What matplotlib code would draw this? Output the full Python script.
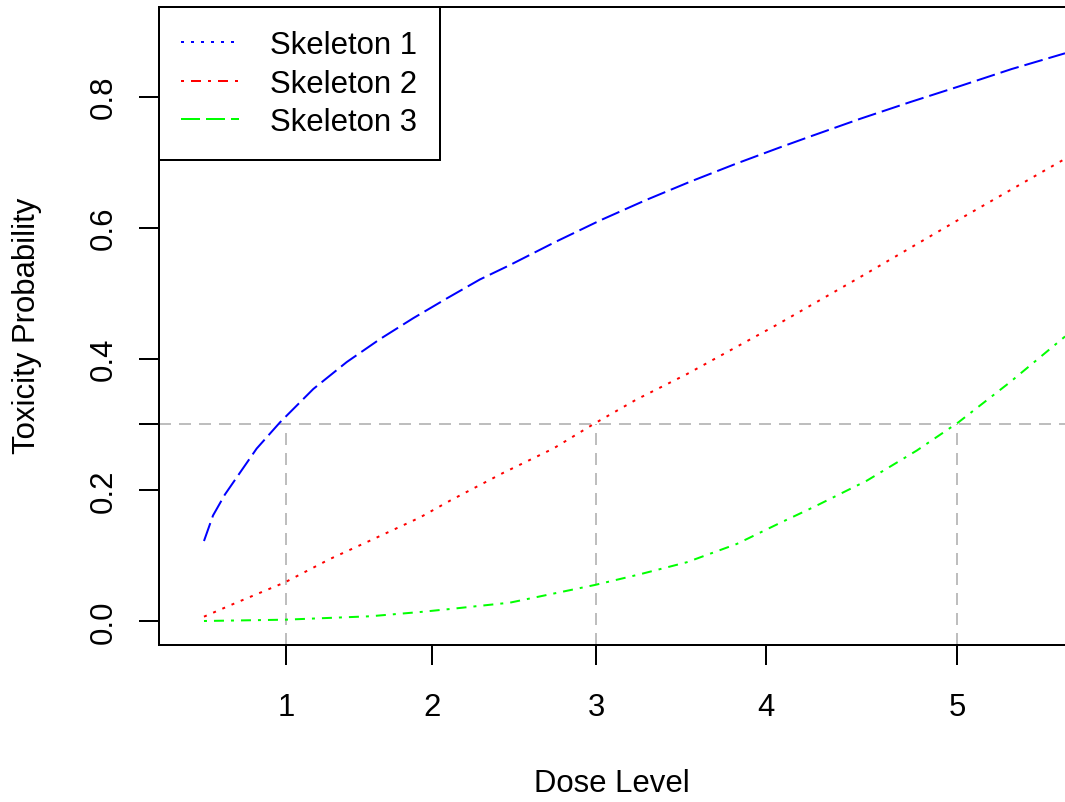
import matplotlib
matplotlib.use('Agg')
import matplotlib.pyplot as plt
from matplotlib.lines import Line2D

plt.rcParams['font.family'] = ['Liberation Sans', 'DejaVu Sans']

# ---- data ----
dose_tick_pos = [1.0, 1.870, 2.848, 3.862, 5.0]
dose_labels = ['1', '2', '3', '4', '5']
prob_ticks = [0.0, 0.2, 0.3, 0.4, 0.6, 0.8]
prob_labels = ['0.0', '0.2', '', '0.4', '0.6', '0.8']
target = 0.3
target_doses = [1.0, 2.848, 5.0]

sk1_x = [0.511, 0.565, 0.636, 0.706, 0.825, 0.964, 1.163, 1.362, 1.560, 1.759, 1.958,
         2.156, 2.335, 2.604, 2.872, 3.140, 3.408, 3.677, 3.945, 4.124, 4.422,
         4.720, 5.018, 5.326, 5.644]
sk1_y = [0.122, 0.161, 0.193, 0.219, 0.263, 0.303, 0.354, 0.395, 0.430, 0.462, 0.492,
         0.521, 0.543, 0.578, 0.611, 0.6415, 0.670, 0.697, 0.7225, 0.739, 0.766,
         0.7915, 0.816, 0.842, 0.866]

sk2_x = [0.511, 0.686, 0.994, 1.262, 1.501, 1.799, 1.978, 2.295, 2.593, 2.842,
         3.090, 3.389, 3.925, 4.422, 5.018, 5.644]
sk2_y = [0.0066, 0.026, 0.059, 0.0946, 0.1226, 0.158, 0.1836, 0.226, 0.263, 0.3017,
         0.338, 0.3765, 0.4517, 0.5245, 0.6134, 0.705]

sk3_x = [0.511, 0.994, 1.501, 1.799, 1.978, 2.335, 2.842, 3.110, 3.389, 3.687,
         3.945, 4.143, 4.462, 4.760, 5.008, 5.316, 5.644]
sk3_y = [0.0, 0.002, 0.0072, 0.0137, 0.0183, 0.028, 0.055, 0.0713, 0.0896, 0.1175,
         0.1496, 0.1735, 0.214, 0.260, 0.303, 0.3643, 0.434]

legend_labels = ['Skeleton 1', 'Skeleton 2', 'Skeleton 3']

# ---- styles ----
LW = 1.44
FS = 22.4
BLUE, RED, GREEN, GREY = '#0000FF', '#FF0000', '#00FF00', '#BEBEBE'
LONGDASH = (0, (9.5, 3))
DOTTED = (0, (1.5, 3.5))
DOTDASH = (0, (1.5, 3.5, 5, 3.5))
GREYDASH = (0, (6, 4))

fig = plt.figure(figsize=(10.65, 8.03), dpi=100)
ax = fig.add_axes([159 / 1065, (803 - 645.6) / 803, (1067 - 159) / 1065, (645.6 - 8.4) / 803])

ylo, yhi = -0.036, 0.936
ax.set_xlim(0.2429, 5.6557)
ax.set_ylim(ylo, yhi)

ax.plot(sk1_x, sk1_y, color=BLUE, lw=LW, ls=LONGDASH, zorder=3)
ax.plot(sk2_x, sk2_y, color=RED, lw=LW, ls=DOTTED, zorder=3)
ax.plot(sk3_x, sk3_y, color=GREEN, lw=LW, ls=DOTDASH, zorder=3)

ax.axhline(target, color=GREY, lw=LW, ls=GREYDASH, zorder=2)
ax.vlines(target_doses, ylo, target, color=GREY, lw=LW, linestyles=[GREYDASH], zorder=2)

ax.set_xticks(dose_tick_pos, dose_labels)
ax.set_yticks(prob_ticks, prob_labels)
ax.tick_params(axis='both', direction='out', length=14.4, width=LW, labelsize=FS, color='black')
ax.tick_params(axis='x', pad=19.4)
ax.tick_params(axis='y', pad=14.4)
for lab in ax.get_yticklabels():
    lab.set_rotation(90)
    lab.set_va('center')
for sp in ax.spines.values():
    sp.set_linewidth(LW)
    sp.set_color('black')

handles = [Line2D([], [], color=BLUE, lw=LW, ls=DOTTED),
           Line2D([], [], color=RED, lw=LW, ls=DOTDASH),
           Line2D([], [], color=GREEN, lw=LW, ls=LONGDASH)]
leg = ax.legend(handles, legend_labels, loc='upper left', bbox_to_anchor=(0, 1),
                bbox_transform=ax.transAxes, borderaxespad=0, fancybox=False,
                edgecolor='black', framealpha=1, fontsize=FS,
                handlelength=58 / 31.1, handletextpad=31 / 31.1,
                borderpad=0.72, labelspacing=0.28)
leg.get_frame().set_linewidth(LW)

fig.text(612 / 1065, 1 - 792 / 803, 'Dose Level', fontsize=FS, ha='center', va='baseline')
fig.text(35 / 1065, 1 - 325.7 / 803, 'Toxicity Probability', fontsize=FS, rotation=90,
         rotation_mode='anchor', ha='center', va='baseline')

fig.savefig('out.png', dpi=100)
